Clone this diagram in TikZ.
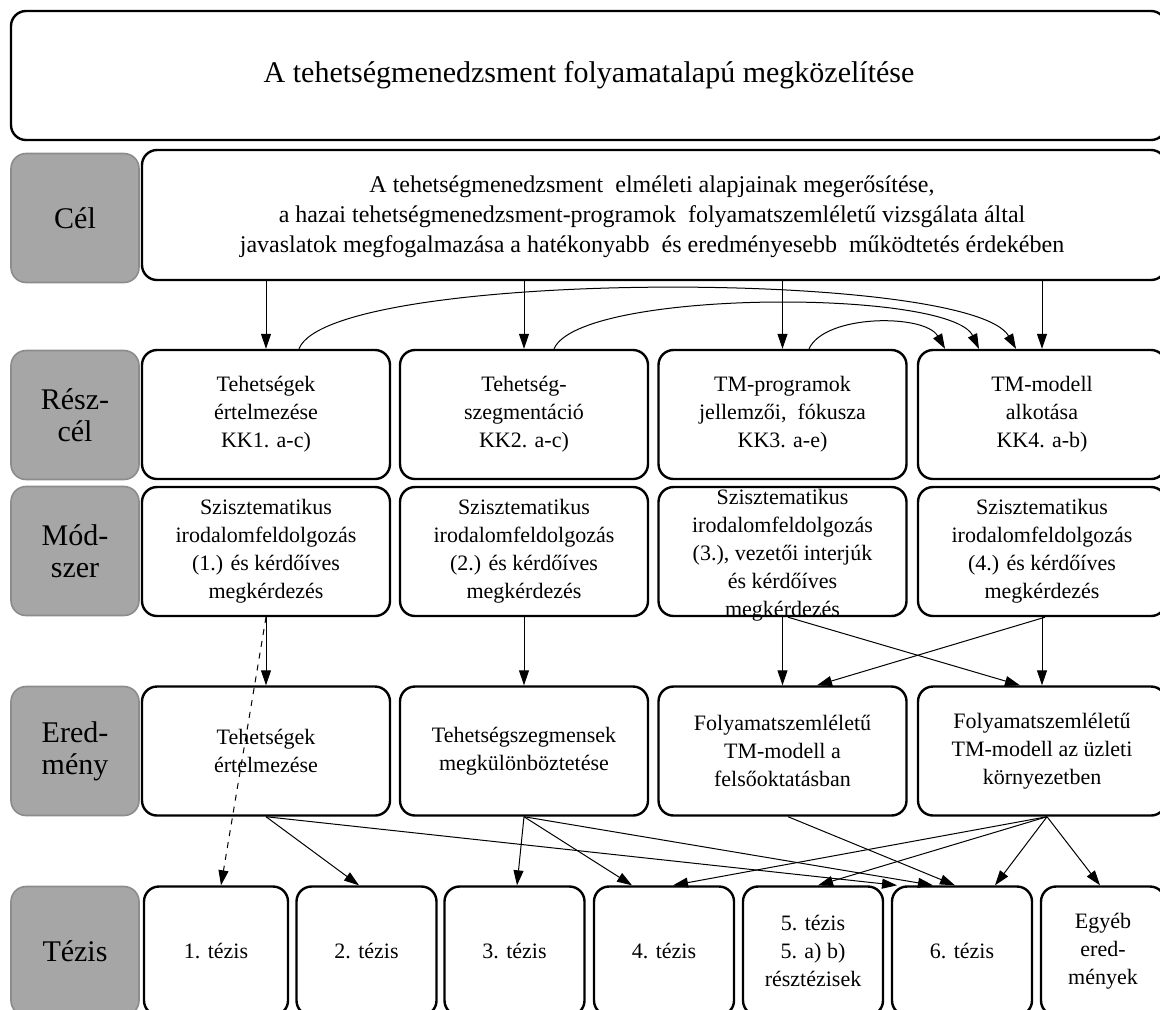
\documentclass[tikz,border=0pt]{standalone}
\usepackage{fontspec}
\setmainfont{Liberation Serif}
\usetikzlibrary{arrows.meta}
\definecolor{lblgray}{HTML}{A6A6A6}
\definecolor{lbledge}{HTML}{8C8C8C}
\tikzset{
	lbl/.style={draw=lbledge, fill=lblgray, line width=0.8pt, rounded corners=7.5pt,
		minimum width=64pt, minimum height=64.5pt, align=center, font=\fontsize{15}{16}\selectfont},
	box/.style={draw, line width=1.2pt, rounded corners=7.5pt, minimum width=124pt,
		minimum height=64.5pt, align=center, font=\fontsize{11}{14}\selectfont},
	tbox/.style={box, minimum width=70pt},
	arr/.style={-{Triangle[length=7.5pt,width=5pt]}, line width=0.5pt},
}
\begin{document}
\begin{tikzpicture}[x=0.5pt, y=-0.5pt]
		\useasboundingbox (0,0) rectangle (1160,1009);
		%title
		\node[box, minimum width=577.5pt, font=\fontsize{15}{18}\selectfont] (title) at (588.5,75.5) {};
		\node[font=\fontsize{15}{18}\selectfont] (titletxt) at (589,75.5) {A tehetségmenedzsment folyamatalapú megközelítése};
		%row labels
		\foreach \y/\n/\txt in {218/cel/Cél, 415/resz/{Rész-\\cél}, 551/mod/{Mód-\\szer}, 751/ered/{Ered-\\mény}, 951/tez/Tézis}{
			\node[lbl] (l\n) at (75,\y) {\txt};
		}
		%goal
		\node[box, minimum width=512pt, minimum height=65pt] (cel) at (654,215) {};
		\node[align=center, font=\fontsize{12}{15}\selectfont] (celtxt) at (652,217) {A tehetségmenedzsment\ \ elméleti alapjainak megerősítése,\\a hazai tehetségmenedzsment-programok\ \ folyamatszemléletű vizsgálata által\\javaslatok megfogalmazása a hatékonyabb\ \ és eredményesebb\ \ működtetés érdekében};
		%sub-goals
		\node[box] (r1) at (266,414.5) {Tehetségek\\értelmezése\\KK1. a-c)};
		\node[box] (r2) at (524,414.5) {Tehetség-\\szegmentáció\\KK2. a-c)};
		\node[box] (r3) at (782.5,414.5) {TM-programok\\jellemzői,\ \ fókusza\\KK3. a-e)};
		\node[box] (r4) at (1042,414.5) {TM-modell\\alkotása\\KK4. a-b)};
		%methods
		\node[box] (m1) at (266,551.5) {Szisztematikus\\irodalomfeldolgozás\\(1.) és kérdőíves\\megkérdezés};
		\node[box] (m2) at (524,551.5) {Szisztematikus\\irodalomfeldolgozás\\(2.) és kérdőíves\\megkérdezés};
		\node[box] (m3) at (782.5,551.5) {};
		\node[align=center, font=\fontsize{11}{14}\selectfont] (m3txt) at (782.5,555) {Szisztematikus\\irodalomfeldolgozás\\(3.), vezetői interjúk\\és kérdőíves\\megkérdezés};
		\node[box] (m4) at (1042,551.5) {Szisztematikus\\irodalomfeldolgozás\\(4.) és kérdőíves\\megkérdezés};
		%results
		\node[box] (e1) at (266,751) {Tehetségek\\értelmezése};
		\node[box] (e2) at (524,751) {Tehetségszegmensek\\megkülönböztetése};
		\node[box] (e3) at (782.5,751) {Folyamatszemléletű\\TM-modell a\\felsőoktatásban};
		\node[box] (e4) at (1042,751) {Folyamatszemléletű\\TM-modell az üzleti\\környezetben};
		%theses
		\node[tbox, minimum width=72pt] (t1) at (216,951) {1. tézis};
		\foreach \i/\x in {2/366.5, 3/514.5, 4/664, 6/962}
		\node[tbox] (t\i) at (\x,951) {\i. tézis};
		\node[tbox] (t5) at (813,951) {5. tézis\\5. a) b)\\résztézisek};
		\node[tbox, minimum width=62pt] (t7) at (1103,951) {Egyéb\\ered-\\mények};
		%goal -> sub-goals
		\foreach \i in {1,...,4}
		\draw[arr] (cel.south -| r\i.north) -- (r\i.north);
		\draw[arr] ([xshift=16.5pt]r1.north) .. controls +(31,-80) and +(-46,-80) .. ([xshift=-13pt]r4.north);
		\draw[arr] ([xshift=15pt]r2.north) .. controls +(26,-60) and +(-29,-60) .. ([xshift=-31.5pt]r4.north);
		\draw[arr] ([xshift=13.25pt]r3.north) .. controls +(16,-35) and +(-20,-35) .. ([xshift=-48.5pt]r4.north);
		%methods -> results
		\foreach \i in {1,...,4}
		\draw[arr] (m\i.south) -- (e\i.north);
		\draw[arr] ([xshift=2.75pt]m3.south) -- ([xshift=-11pt]e4.north);
		\draw[arr] ([xshift=1.5pt]m4.south) -- ([xshift=17.25pt]e3.north);
		\draw[arr, dashed] (m1.south) -- ([xshift=2.5pt]t1.north);
		%results -> theses
		\foreach \a/\b/\sx/\tx in {1/2/0pt/-3.75pt, 1/6/0pt/-32.5pt, 2/3/0pt/1.25pt, 2/4/0pt/-16pt, 2/6/0pt/-14.5pt, 3/6/2.75pt/-3.5pt, 4/4/2.5pt/4.5pt, 4/5/2.5pt/2.5pt, 4/6/2.5pt/16.5pt, 4/7/2.5pt/-1.5pt}
		\draw[arr] ([xshift=\sx]e\a.south) -- ([xshift=\tx]t\b.north);
\end{tikzpicture}
\end{document}
